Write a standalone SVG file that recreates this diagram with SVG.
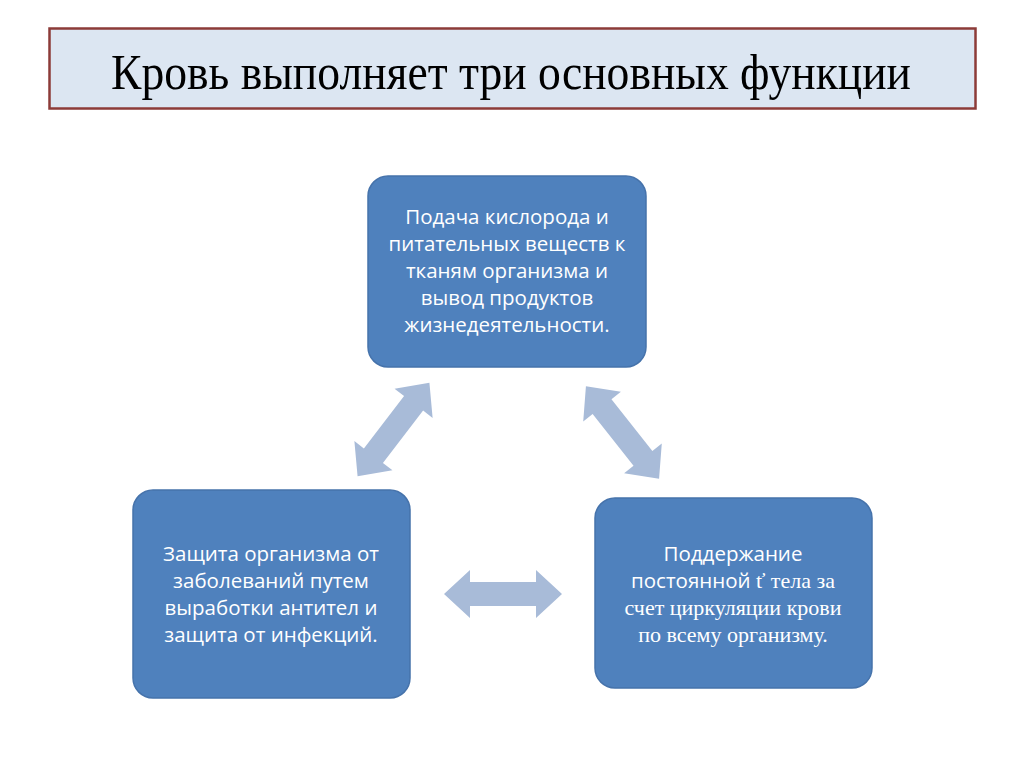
<svg xmlns="http://www.w3.org/2000/svg" width="1024" height="767" viewBox="0 0 1024 767">
<style>
.box{fill:#4f81bd;stroke:#4673ab;stroke-width:1.5}
.t{font-family:"Open Sans","Noto Sans",sans-serif;font-size:20.5px;fill:#ffffff;text-anchor:middle}
.s{font-family:"Liberation Serif","Times New Roman",serif;font-size:22px}
.arr{fill:#a8bbd8}
</style>
<defs>
<polygon id="dbl" points="-59,0 -33,-24 -33,-12 33,-12 33,-24 59,0 33,24 33,12 -33,12 -33,24"/>
</defs>
<rect width="1024" height="767" fill="#ffffff"/>
<g id="title">
<rect x="49.5" y="28.5" width="926" height="80" fill="#dce6f2" stroke="#8c3b38" stroke-width="2.5"/>
<text x="511" y="89" font-family="Liberation Serif,'Times New Roman',serif" font-size="51" fill="#000" text-anchor="middle" textLength="800" lengthAdjust="spacingAndGlyphs">Кровь выполняет три основных функции</text>
</g>
<g id="connectors">
<use href="#dbl" class="arr" transform="translate(503,594)"/>
<use href="#dbl" class="arr" transform="translate(393.5,429.5) rotate(-52.5)"/>
<use href="#dbl" class="arr" transform="translate(622.5,432.5) rotate(51.7)"/>
</g>
<g id="node-top">
<rect class="box" x="368" y="176" width="278" height="191" rx="20"/>
<text class="t"><tspan x="507" y="224">Подача кислорода и</tspan><tspan x="507" y="251">питательных веществ к</tspan><tspan x="507" y="278">тканям организма и</tspan><tspan x="507" y="305">вывод продуктов</tspan><tspan x="507" y="332">жизнедеятельности.</tspan></text>
</g>
<g id="node-left">
<rect class="box" x="133" y="490" width="277" height="208" rx="20"/>
<text class="t"><tspan x="271" y="561">Защита организма от</tspan><tspan x="271" y="588">заболеваний путем</tspan><tspan x="271" y="615">выработки антител и</tspan><tspan x="271" y="642">защита от инфекций.</tspan></text>
</g>
<g id="node-right">
<rect class="box" x="595" y="498" width="277" height="190" rx="20"/>
<text class="t"><tspan x="733" y="561">Поддержание</tspan><tspan x="733" y="588">постоянной <tspan class="s">ť тела за</tspan></tspan><tspan x="733" y="615" class="s">счет циркуляции крови</tspan><tspan x="733" y="642" class="s">по всему организму.</tspan></text>
</g>
</svg>
